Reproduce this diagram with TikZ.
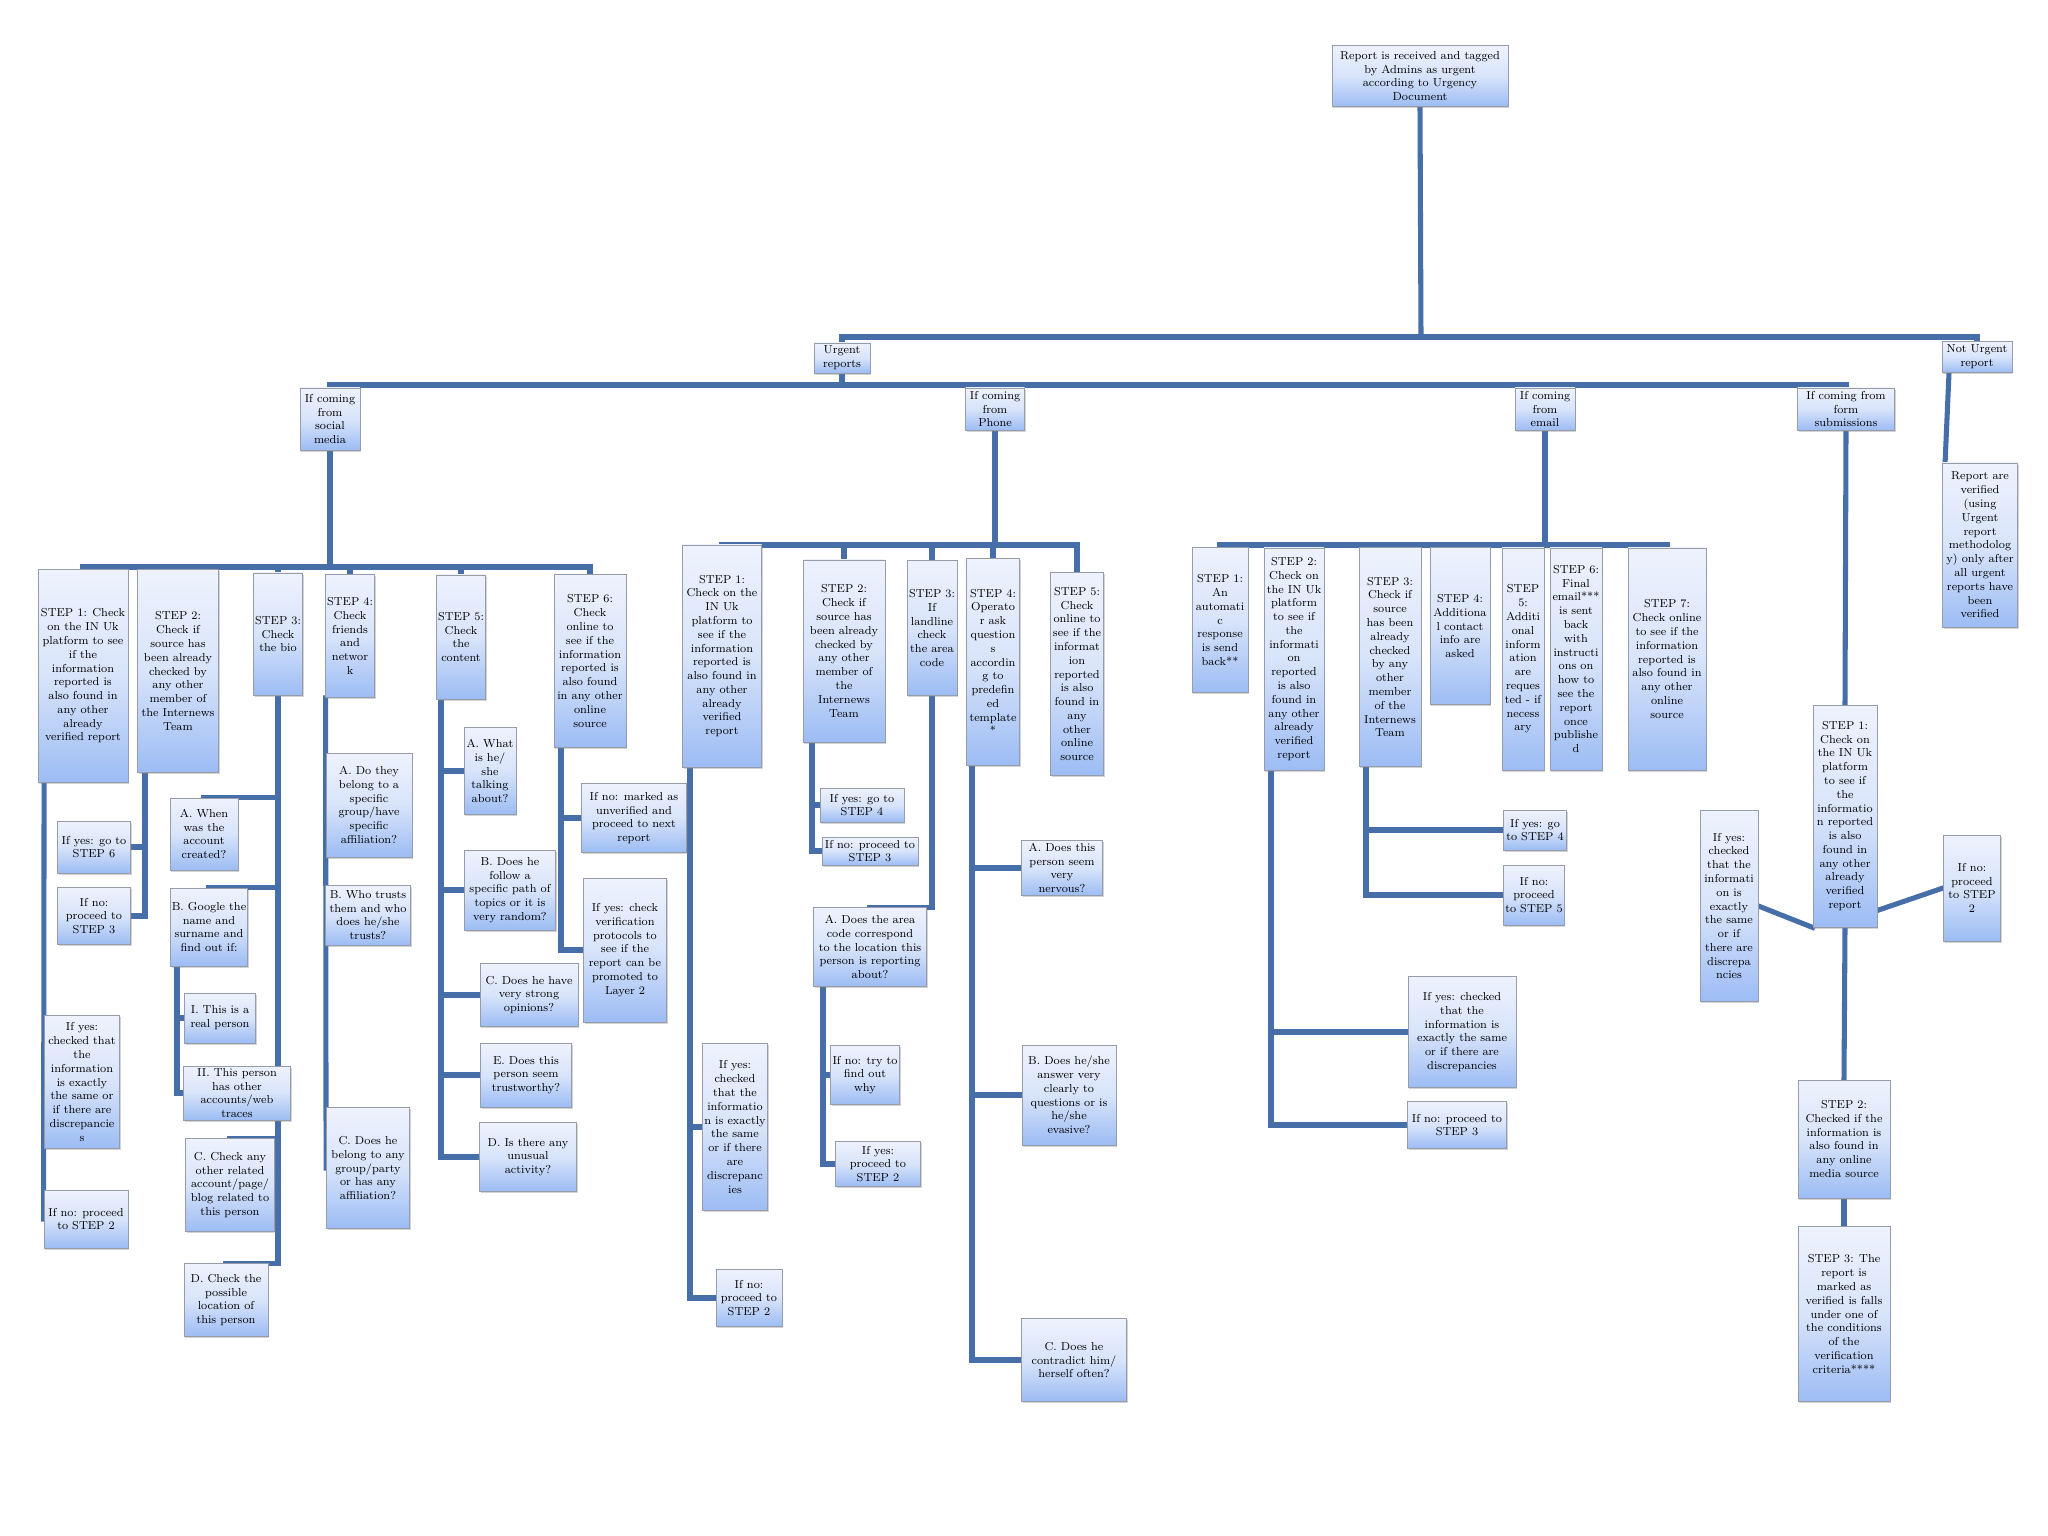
\documentclass[tikz,border=0pt]{standalone}
\usepackage{tikz}
\usetikzlibrary{calc,shadows,backgrounds}
\definecolor{linkblue}{RGB}{70,110,168}
\definecolor{boxline}{RGB}{150,156,170}
\definecolor{boxtop}{RGB}{238,242,253}
\definecolor{boxmid}{RGB}{216,228,250}
\definecolor{boxbot}{RGB}{156,188,244}

\begin{document}
\begin{tikzpicture}[x=0.025cm, y=-0.025cm,
    every node/.style={font=\fontsize{8.2}{9.8}\selectfont},
    stepbox/.style={draw=boxline, line width=0.6pt, top color=boxtop, bottom color=boxbot, middle color=boxmid,
        align=center, inner sep=1pt, drop shadow={shadow xshift=0.9pt, shadow yshift=-1.2pt, opacity=0.35}},
    sz/.style 2 args={minimum width=#1*0.025cm, minimum height=#2*0.025cm},
    link/.style={draw=linkblue, line width=3.6pt, line cap=rect}]
        \useasboundingbox (0,0) rectangle (2048,1536);

        % Report and urgency split (top)
        \node[stepbox, sz={176}{61}] (root) at (1420,76)
            {Report is received and tagged\\by Admins as urgent\\according to Urgency\\Document};
        \node[stepbox, sz={56}{30}] (urg) at (842,358) {Urgent\\reports};
        \node[stepbox, sz={70}{31}] (nu) at (1977,357) {Not Urgent\\report};
        \node[stepbox, sz={75}{164}] (rv) at (1980,545)
            {Report are\\verified\\(using\\Urgent\\report\\methodolog\\y) only after\\all urgent\\reports have\\been\\verified};

        % Sources
        \node[stepbox, sz={60}{62}] (sm) at (330,419) {If coming\\from\\social\\media};
        \node[stepbox, sz={59}{42}] (phone) at (995,409) {If coming\\from\\Phone};
        \node[stepbox, sz={60}{42}] (email) at (1545,409) {If coming\\from\\email};
        \node[stepbox, sz={97}{42}] (form) at (1846,409) {If coming from\\form\\submissions};

        % Social media steps
        \node[stepbox, sz={90}{213}] (s1) at (83,676)
            {STEP 1: Check\\on the IN Uk\\platform to see\\if the\\information\\reported is\\also found in\\any other\\already\\verified report};
        \node[stepbox, sz={81}{203}] (s2) at (178,671)
            {STEP 2:\\Check if\\source has\\been already\\checked by\\any other\\member of\\the Internews\\Team};
        \node[stepbox, sz={45}{122}] (s3) at (278,634) {STEP 3:\\Check\\the bio};
        \node[stepbox, sz={46}{123}] (s4) at (350,636) {STEP 4:\\Check\\friends\\and\\networ\\k};
        \node[stepbox, sz={47}{124}] (s5) at (461,637) {STEP 5:\\Check\\the\\content};
        \node[stepbox, sz={72}{173}] (s6) at (590,661)
            {STEP 6:\\Check\\online to\\see if the\\information\\reported is\\also found\\in any other\\online\\source};

        \node[stepbox, sz={75}{133}] (s1yes) at (82,1082)
            {If yes:\\checked that\\the\\information\\is exactly\\the same or\\if there are\\discrepancie\\s};
        \node[stepbox, sz={84}{58}] (s1no) at (86,1219) {If no: proceed\\to STEP 2};
        \node[stepbox, sz={73}{52}] (s2yes) at (94,847) {If yes: go to\\STEP 6};
        \node[stepbox, sz={73}{57}] (s2no) at (94,916) {If no:\\proceed to\\STEP 3};

        \node[stepbox, sz={68}{72}] (s3a) at (204,834) {A. When\\was the\\account\\created?};
        \node[stepbox, sz={77}{78}] (s3b) at (209,927) {B. Google the\\name and\\surname and\\find out if:};
        \node[stepbox, sz={71}{50}] (s3bi) at (220,1018) {I. This is a\\real person};
        \node[stepbox, sz={107}{54}] (s3bii) at (237,1093) {II. This person\\has other\\accounts/web\\traces};
        \node[stepbox, sz={89}{93}] (s3c) at (230,1185)
            {C. Check any\\other related\\account/page/\\blog related to\\this person};
        \node[stepbox, sz={84}{73}] (s3d) at (226,1300) {D. Check the\\possible\\location of\\this person};

        \node[stepbox, sz={86}{104}] (s4a) at (369,805)
            {A. Do they\\belong to a\\specific\\group/have\\specific\\affiliation?};
        \node[stepbox, sz={85}{60}] (s4b) at (368,915) {B. Who trusts\\them and who\\does he/she\\trusts?};
        \node[stepbox, sz={83}{121}] (s4c) at (368,1168)
            {C. Does he\\belong to any\\group/party\\or has any\\affiliation?};

        \node[stepbox, sz={52}{87}] (s5a) at (490,771) {A. What\\is he/\\she\\talking\\about?};
        \node[stepbox, sz={91}{80}] (s5b) at (510,890)
            {B. Does he\\follow a\\specific path of\\topics or it is\\very random?};
        \node[stepbox, sz={98}{63}] (s5c) at (529,995) {C. Does he have\\very strong\\opinions?};
        \node[stepbox, sz={91}{64}] (s5e) at (526,1075) {E. Does this\\person seem\\trustworthy?};
        \node[stepbox, sz={97}{69}] (s5d) at (528,1157) {D. Is there any\\unusual\\activity?};

        \node[stepbox, sz={105}{69}] (s6no) at (634,818)
            {If no: marked as\\unverified and\\proceed to next\\report};
        \node[stepbox, sz={83}{144}] (s6yes) at (625,950)
            {If yes: check\\verification\\protocols to\\see if the\\report can be\\promoted to\\Layer 2};

        % Phone steps
        \node[stepbox, sz={79}{222}] (p1) at (722,656)
            {STEP 1:\\Check on the\\IN Uk\\platform to\\see if the\\information\\reported is\\also found in\\any other\\already\\verified\\report};
        \node[stepbox, sz={82}{182}] (p2) at (844,651)
            {STEP 2:\\Check if\\source has\\been already\\checked by\\any other\\member of\\the\\Internews\\Team};
        \node[stepbox, sz={50}{135}] (p3) at (932,628) {STEP 3:\\If\\landline\\check\\the area\\code};
        \node[stepbox, sz={53}{207}] (p4) at (993,662)
            {STEP 4:\\Operato\\r ask\\question\\s\\accordin\\g to\\predefin\\ed\\template\\*};
        \node[stepbox, sz={53}{203}] (p5) at (1077,674)
            {STEP 5:\\Check\\online to\\see if the\\informat\\ion\\reported\\is also\\found in\\any\\other\\online\\source};

        \node[stepbox, sz={65}{167}] (p1yes) at (735,1127)
            {If yes:\\checked\\that the\\informatio\\n is exactly\\the same\\or if there\\are\\discrepanc\\ies};
        \node[stepbox, sz={66}{57}] (p1no) at (749,1298) {If no:\\proceed to\\STEP 2};
        \node[stepbox, sz={84}{34}] (p2yes) at (862,805) {If yes: go to\\STEP 4};
        \node[stepbox, sz={96}{28}] (p2no) at (870,851) {If no: proceed to\\STEP 3};
        \node[stepbox, sz={113}{79}] (p3a) at (870,947)
            {A. Does the area\\code correspond\\to the location this\\person is reporting\\about?};
        \node[stepbox, sz={69}{59}] (p3no) at (865,1075) {If no: try to\\find out\\why};
        \node[stepbox, sz={85}{45}] (p3yes) at (878,1164) {If yes:\\proceed to\\STEP 2};
        \node[stepbox, sz={81}{55}] (p4a) at (1062,868) {A. Does this\\person seem\\very\\nervous?};
        \node[stepbox, sz={94}{100}] (p4b) at (1069,1095)
            {B. Does he/she\\answer very\\clearly to\\questions or is\\he/she\\evasive?};
        \node[stepbox, sz={105}{83}] (p4c) at (1074,1360) {C. Does he\\contradict him/\\herself often?};

        % Email steps
        \node[stepbox, sz={56}{145}] (e1) at (1220,620)
            {STEP 1:\\An\\automati\\c\\response\\is send\\back**};
        \node[stepbox, sz={60}{222}] (e2) at (1294,659)
            {STEP 2:\\Check on\\the IN Uk\\platform\\to see if\\the\\informati\\on\\reported\\is also\\found in\\any other\\already\\verified\\report};
        \node[stepbox, sz={62}{219}] (e3) at (1390,657)
            {STEP 3:\\Check if\\source\\has been\\already\\checked\\by any\\other\\member\\of the\\Internews\\Team};
        \node[stepbox, sz={60}{157}] (e4) at (1460,626) {STEP 4:\\Additiona\\l contact\\info are\\asked};
        \node[stepbox, sz={42}{222}] (e5) at (1523,659)
            {STEP\\5:\\Additi\\onal\\inform\\ation\\are\\reques\\ted - if\\necess\\ary};
        \node[stepbox, sz={52}{222}] (e6) at (1576,659)
            {STEP 6:\\Final\\email***\\is sent\\back\\with\\instructi\\ons on\\how to\\see the\\report\\once\\publishe\\d};
        \node[stepbox, sz={78}{222}] (e7) at (1667,659)
            {STEP 7:\\Check online\\to see if the\\information\\reported is\\also found in\\any other\\online\\source};

        \node[stepbox, sz={108}{111}] (e2yes) at (1462,1032)
            {If yes: checked\\that the\\information is\\exactly the same\\or if there are\\discrepancies};
        \node[stepbox, sz={99}{47}] (e2no) at (1457,1125) {If no: proceed to\\STEP 3};
        \node[stepbox, sz={63}{40}] (e3yes) at (1535,830) {If yes: go\\to STEP 4};
        \node[stepbox, sz={60}{60}] (e3no) at (1534,895) {If no:\\proceed\\to STEP 5};

        % Form submission steps
        \node[stepbox, sz={64}{222}] (f1) at (1845,816)
            {STEP 1:\\Check on\\the IN Uk\\platform\\to see if\\the\\informatio\\n reported\\is also\\found in\\any other\\already\\verified\\report};
        \node[stepbox, sz={58}{191}] (f1yes) at (1729,906)
            {If yes:\\checked\\that the\\informati\\on is\\exactly\\the same\\or if\\there are\\discrepa\\ncies};
        \node[stepbox, sz={57}{106}] (f1no) at (1972,888) {If no:\\proceed\\to STEP\\2};
        \node[stepbox, sz={92}{118}] (f2) at (1844,1139)
            {STEP 2:\\Checked if the\\information is\\also found in\\any online\\media source};
        \node[stepbox, sz={92}{175}] (f3) at (1844,1314)
            {STEP 3: The\\report is\\marked as\\verified is falls\\under one of\\the conditions\\of the\\verification\\criteria****};

        % Trunk points
        \coordinate (topbus) at (1421,337);
        \coordinate (srcbus) at (842,385);
        \coordinate (smbus) at (330,567);
        \coordinate (pbus) at (995,545);
        \coordinate (ebus) at (1545,545);
        \coordinate (s2t) at (145,773);
        \coordinate (s3bt) at (177,966);
        \coordinate (s5t) at (441,699);
        \coordinate (s6t) at (561,748);
        \coordinate (p1t) at (690,767);
        \coordinate (p2t) at (812,742);
        \coordinate (p3at) at (823,987);
        \coordinate (p4t) at (972,765);
        \coordinate (e2t) at (1271,770);
        \coordinate (e3t) at (1366,767);

        \begin{scope}[on background layer]
            % top levels
            \draw[link] (root.south) -- (topbus);
            \draw[link] (urg.north) |- (topbus);
            \draw[link] (nu.north) |- (topbus);
            \draw[link] ($(nu.south)+(-28,0)$) -- ($(rv.north west)+(3,0)$) -- ($(rv.north west)+(3,80)$);
            \draw[link] (urg.south) -- (srcbus);
            \foreach \src in {sm,phone,email,form}
                \draw[link] (\src.north) |- (srcbus);

            % social media
            \draw[link] (sm.south) -- (smbus);
            \foreach \s in {s1,s2,s3,s4,s5,s6}
                \draw[link] (\s.north) |- (smbus);
            \draw[link] (s1yes.west |- s1.south) -- (s1no.west);
            \draw[link] (s2t) |- (s2no.east);
            \draw[link] (s2yes.east) -- (s2yes.east -| s2t);
            \draw[link] (s3.south) |- (s3d.north);
            \foreach \s in {s3a,s3b,s3c}
                \draw[link] (\s.north) -- (\s.north -| s3.south);
            \draw[link] (s3bt) |- (s3bii.west);
            \draw[link] (s3bi.west) -- (s3bi.west -| s3bt);
            \draw[link] (s4a.west |- s4.south) -- (s4c.west);
            \draw[link] (s5t) |- (s5d.west);
            \foreach \s in {s5a,s5b,s5c,s5e}
                \draw[link] (\s.west) -- (\s.west -| s5t);
            \draw[link] (s6t) |- (s6yes.west);
            \draw[link] (s6no.west) -- (s6no.west -| s6t);

            % phone
            \draw[link] (phone.south) -- (pbus);
            \foreach \s in {p1,p2,p3,p4,p5}
                \draw[link] (\s.north) |- (pbus);
            \draw[link] (p1t) |- (p1no.west);
            \draw[link] (p1yes.west) -- (p1yes.west -| p1t);
            \draw[link] (p2t) |- (p2no.west);
            \draw[link] (p2yes.west) -- (p2yes.west -| p2t);
            \draw[link] (p3.south) |- (p3a.north);
            \draw[link] (p3at) |- (p3yes.west);
            \draw[link] (p3no.west) -- (p3no.west -| p3at);
            \draw[link] (p4t) |- (p4c.west);
            \foreach \s in {p4a,p4b}
                \draw[link] (\s.west) -- (\s.west -| p4t);

            % email
            \draw[link] (email.south) -- (ebus);
            \foreach \s in {e1,e2,e3,e4,e5,e6,e7}
                \draw[link] (\s.north) |- (ebus);
            \draw[link] (e2t) |- (e2no.west);
            \draw[link] (e2yes.west) -- (e2yes.west -| e2t);
            \draw[link] (e3t) |- (e3no.west);
            \draw[link] (e3yes.west) -- (e3yes.west -| e3t);

            % form submissions
            \draw[link] (form.south) -- (f1.north);
            \draw[link] (f1yes.east) -- (f1.south west);
            \draw[link] ($(f1.south east)+(0,-17)$) -- (f1no.west);
            \draw[link] (f1.south) -- (f2.north);
            \draw[link] (f2.south) -- (f3.north);
        \end{scope}
    \end{tikzpicture}
\end{document}
